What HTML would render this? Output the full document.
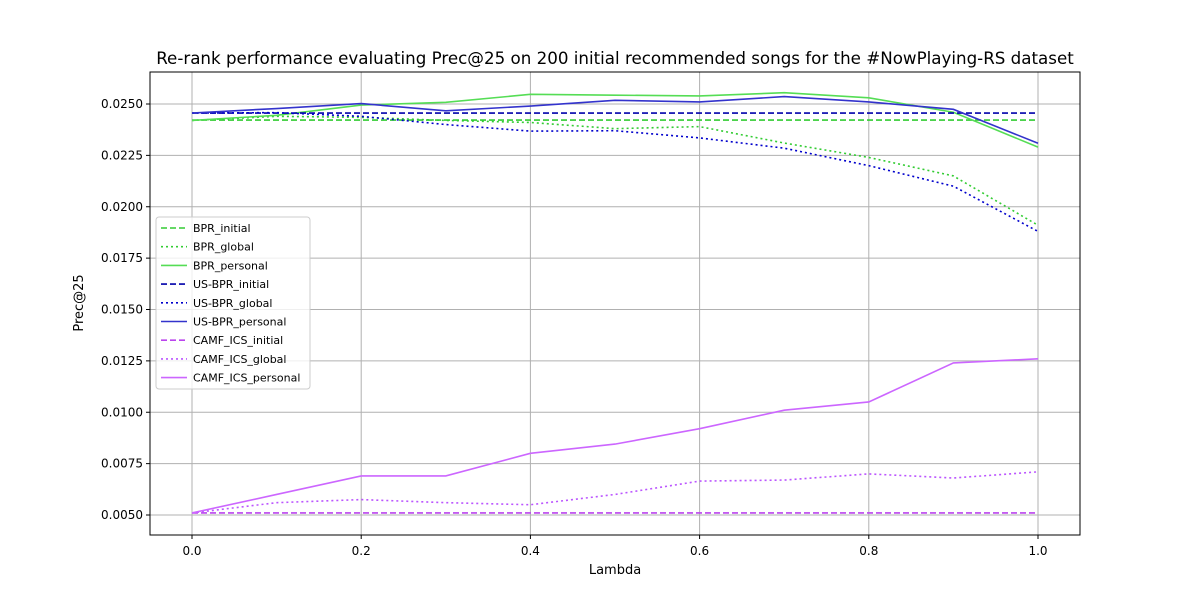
<!DOCTYPE html>
<html><head><meta charset="utf-8"><style>body{margin:0;background:#fff}svg{font-family:"DejaVu Sans","Liberation Sans",sans-serif}</style></head>
<body>
<svg id="chart" width="1200" height="600" xmlns="http://www.w3.org/2000/svg">
<rect width="1200" height="600" fill="#fff"/>
<text x="615" y="64" text-anchor="middle" font-size="16.7">Re-rank performance evaluating Prec@25 on 200 initial recommended songs for the #NowPlaying-RS dataset</text>
<g id="grid"></g><g id="series"></g>
<rect x="150" y="72" width="930" height="463" fill="none" stroke="#000" stroke-width="1"/>
<g id="ticks"></g>
<text x="615" y="574" text-anchor="middle" font-size="13">Lambda</text>
<text x="0" y="0" transform="translate(83,303) rotate(-90)" text-anchor="middle" font-size="13">Prec@25</text>
<g id="legend"></g>
</svg>
<script>
const lambdas=[0,0.1,0.2,0.3,0.4,0.5,0.6,0.7,0.8,0.9,1.0];
const xTicks=[0,0.2,0.4,0.6,0.8,1.0];
const yTicks=[0.005,0.0075,0.01,0.0125,0.015,0.0175,0.02,0.0225,0.025];
const bprInitial=[0.02422,0.02422,0.02422,0.02422,0.02422,0.02422,0.02422,0.02422,0.02422,0.02422,0.02422];
const bprGlobal=[0.0242,0.0244,0.02435,0.0242,0.0241,0.0238,0.0239,0.0231,0.0224,0.0215,0.0191];
const bprPersonal=[0.0242,0.02445,0.02495,0.02508,0.02547,0.02543,0.02539,0.02555,0.0253,0.0246,0.0229];
const usInitial=[0.02456,0.02456,0.02456,0.02456,0.02456,0.02456,0.02456,0.02456,0.02456,0.02456,0.02456];
const usGlobal=[0.02456,0.02458,0.0244,0.024,0.02368,0.0237,0.02335,0.02285,0.022,0.021,0.0188];
const usPersonal=[0.02456,0.02478,0.02502,0.02467,0.0249,0.02518,0.0251,0.02536,0.0251,0.02474,0.02309];
const camfInitial=[0.0051,0.0051,0.0051,0.0051,0.0051,0.0051,0.0051,0.0051,0.0051,0.0051,0.0051];
const camfGlobal=[0.0051,0.0056,0.00575,0.0056,0.0055,0.006,0.00665,0.0067,0.007,0.0068,0.0071];
const camfPersonal=[0.0051,0.006,0.0069,0.0069,0.008,0.00845,0.0092,0.0101,0.0105,0.0124,0.0126];
const seriesNames=["BPR_initial","BPR_global","BPR_personal","US-BPR_initial","US-BPR_global","US-BPR_personal","CAMF_ICS_initial","CAMF_ICS_global","CAMF_ICS_personal"];
const NS="http://www.w3.org/2000/svg";
const X=v=>192+v*846;
const Y=v=>515-(v-0.005)/0.0025*51.375;
function mk(t,a,p){const e=document.createElementNS(NS,t);for(const k in a)e.setAttribute(k,a[k]);p.appendChild(e);return e;}
const grid=document.getElementById('grid'),ticks=document.getElementById('ticks');
xTicks.forEach(t=>{
 const l=mk('line',{x1:X(t),x2:X(t),y1:72,y2:535,stroke:'#b0b0b0','stroke-width':1},grid);
 
 
 mk('line',{x1:X(t),x2:X(t),y1:535,y2:539,stroke:'#000'},ticks);
 const tx=mk('text',{x:X(t),y:555,'text-anchor':'middle','font-size':12},ticks);
 tx.textContent=t.toFixed(1);
 
 
});
yTicks.forEach(t=>{
 const l=mk('line',{x1:150,x2:1080,y1:Y(t),y2:Y(t),stroke:'#b0b0b0','stroke-width':1},grid);
 
 
 mk('line',{x1:146,x2:150,y1:Y(t),y2:Y(t),stroke:'#000'},ticks);
 const tx=mk('text',{x:143,y:Y(t)+4,'text-anchor':'end','font-size':12},ticks);
 tx.textContent=t.toFixed(4);
 
 
});
const data=[bprInitial,bprGlobal,bprPersonal,usInitial,usGlobal,usPersonal,camfInitial,camfGlobal,camfPersonal];
const colors=['#33cc33','#33cc33','#55dd55','#0000aa','#0000cc','#3333cc','#bb44ee','#bb55ff','#cc66ff'];
const dashes=['6,3','2,3','none','6,3','2,3','none','6,3','2,3','none'];
const sg=document.getElementById('series');
data.forEach((d,i)=>{
 const p=mk('polyline',{points:d.map((v,j)=>X(lambdas[j])+','+Y(v)).join(' '),fill:'none',stroke:colors[i],'stroke-width':1.6,'stroke-dasharray':dashes[i]},sg);
 
 
});
const lg=document.getElementById('legend');
const box=mk('rect',{x:156,y:217,width:154,height:172,fill:'#fff','fill-opacity':0.8,stroke:'#ccc',rx:3},lg);


seriesNames.forEach((n,i)=>{
 const y=228+i*18.7;
 const ln=mk('line',{x1:161,x2:187,y1:y,y2:y,stroke:colors[i],'stroke-width':1.6,'stroke-dasharray':dashes[i]},lg);
 
 
 const t=mk('text',{x:193,y:y+4,'font-size':11},lg);
 t.textContent=n;
 
 
});
</script>
</body></html>
